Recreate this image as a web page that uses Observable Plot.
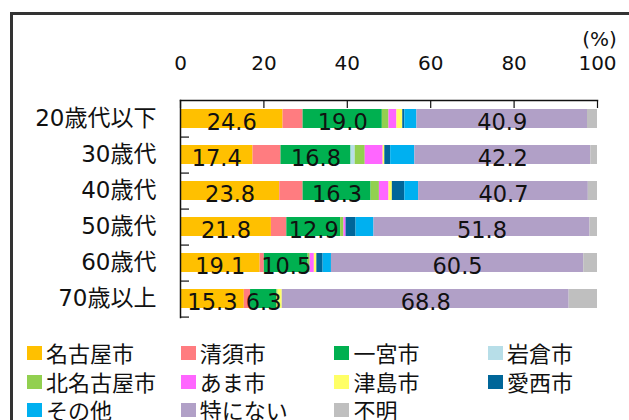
<!DOCTYPE html>
<html>
<head>
<meta charset="utf-8">
<script src="https://cdn.jsdelivr.net/npm/d3@7"></script>
<script src="https://cdn.jsdelivr.net/npm/@observablehq/plot@0.6"></script>
<style>
  html, body { margin: 0; padding: 0; background: #fff; }
  body { width: 629px; height: 420px; overflow: hidden; position: relative;
         font-family: "DejaVu Sans", "Noto Sans CJK JP", sans-serif; }
  #chart { position: absolute; left: 0; top: 0; z-index: 1; }
  #legend { position: absolute; left: 27px; top: 344px; display: grid; z-index: 2;
            grid-template-columns: repeat(4, 153.7px); grid-auto-rows: 28.5px; }
  .item { display: flex; align-items: flex-start; font-size: 22px; line-height: 17px; color: #111;
          font-family: "Noto Sans CJK JP", sans-serif; white-space: nowrap; }
  .sw { width: 15px; height: 14px; margin-right: 4px; flex: none; margin-top: 2px; }
  #border { position: absolute; left: 10px; top: 12px; right: -5px; bottom: -5px; z-index: 5;
            border-left: 3px solid #333; border-top: 3px solid #333; }
</style>
</head>
<body>
<div id="chart"></div>
<div id="legend"></div>
<div id="border"></div>
<script>
// ---- data ----
const ages = ["20歳代以下", "30歳代", "40歳代", "50歳代", "60歳代", "70歳以上"];
const cities = ["名古屋市", "清須市", "一宮市", "岩倉市", "北名古屋市", "あま市", "津島市", "愛西市", "その他", "特にない", "不明"];
const colors = ["#FFC000", "#FF7C80", "#00B050", "#B7DEE8", "#92D050", "#FF66FF", "#FFFF66", "#006699", "#00B0F0", "#B1A0C7", "#BFBFBF"];
const nagoya     = [24.6, 17.4, 23.8, 21.8, 19.1, 15.3];
const kiyosu     = [4.8, 6.7, 5.6, 3.7, 1.0, 1.5];
const ichinomiya = [19.0, 16.8, 16.3, 12.9, 10.5, 6.3];
const iwakura    = [0, 1.0, 0, 0, 0, 0];
const kitanagoya = [1.6, 2.4, 2.0, 0.8, 0.5, 0.3];
const ama        = [1.9, 4.3, 2.3, 0.5, 1.0, 0];
const tsushima   = [1.4, 0.4, 0.8, 0, 0.6, 1.0];
const aisai      = [0.5, 1.4, 3.0, 2.4, 1.5, 0];
const other      = [2.9, 5.8, 3.3, 4.3, 2.0, 0];
const nothing    = [40.9, 42.2, 40.7, 51.8, 60.5, 68.8];
const unknown    = [2.4, 1.6, 2.2, 1.8, 3.3, 6.8];
const labeled    = ["名古屋市", "一宮市", "特にない"];
const xTicks     = [0, 20, 40, 60, 80, 100];
const unitLabel  = "(%)";

const series = [nagoya, kiyosu, ichinomiya, iwakura, kitanagoya, ama, tsushima, aisai, other, nothing, unknown];
const table = [];
cities.forEach((c, ci) => ages.forEach((a, ai) => table.push({age: a, city: c, value: series[ci][ai]})));

const W = 629, H = 420, mTop = 100, mBottom = 103, mLeft = 180, mRight = 32;
const step = (H - mTop - mBottom) / ages.length;
const font = "DejaVu Sans, Noto Sans CJK JP, sans-serif";
const border = {left: 11, top: 13};

const chart = Plot.plot({
  width: W, height: H,
  marginTop: mTop, marginBottom: mBottom, marginLeft: mLeft, marginRight: mRight,
  style: {fontFamily: font, background: "transparent", color: "#111", overflow: "visible"},
  x: {domain: [0, 100], axis: null, label: null},
  y: {domain: ages, paddingInner: 0.47, paddingOuter: 0.235, axis: null, label: null},
  color: {domain: cities, range: colors},
  marks: [
    Plot.frame({anchor: "left", stroke: "#222", strokeWidth: 2.5,
      insetLeft: border.left - mLeft, insetTop: border.top - mTop, insetBottom: -mBottom}),
    Plot.frame({anchor: "top", stroke: "#222", strokeWidth: 2.5,
      insetLeft: border.left - mLeft, insetTop: border.top - mTop, insetRight: -mRight}),
    Plot.barX(table, Plot.stackX({x: "value", y: "age", fill: "city", order: cities})),
    Plot.text(table, Plot.stackX({x: "value", y: "age", z: "city", order: cities,
      text: d => labeled.includes(d.city) ? d.value.toFixed(1) : "",
      fontSize: 22.5, fill: "#111", dy: 4})),
    Plot.frame({anchor: "top", stroke: "#111", strokeWidth: 1.5}),
    Plot.frame({anchor: "left", stroke: "#111", strokeWidth: 1.5}),
    Plot.axisX({anchor: "top", ticks: xTicks, tickSize: -7, tickFormat: () => "", label: null, stroke: "#111", strokeWidth: 1.2}),
    Plot.axisX({anchor: "top", ticks: xTicks, tickSize: 0, tickPadding: 31, label: null, fontSize: 20, fill: "#111"}),
    Plot.axisY({anchor: "left", tickSize: -9, tickFormat: () => "", label: null, dy: step / 2, stroke: "#111", strokeWidth: 1.2}),
    Plot.axisY({anchor: "left", tickSize: 0, tickPadding: 24, label: null, fontSize: 23, fill: "#111"}),
    Plot.text([unitLabel], {x: () => xTicks[xTicks.length - 1], frameAnchor: "top", lineAnchor: "middle", dy: -61, dx: 2,
      text: d => d, fontSize: 20, fill: "#111"})
  ]
});
document.getElementById("chart").appendChild(chart);

const legend = document.getElementById("legend");
cities.forEach((c, i) => {
  const it = document.createElement("div");
  it.className = "item";
  it.innerHTML = `<div class="sw" style="background:${colors[i]}"></div><span class="t">${c}</span>`;
  legend.appendChild(it);
});
</script>
</body>
</html>
